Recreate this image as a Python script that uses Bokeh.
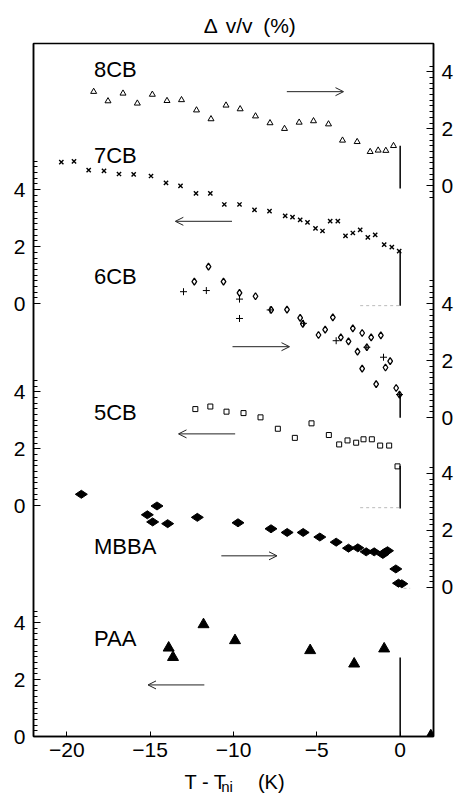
import numpy as np
from bokeh.plotting import figure
from bokeh.layouts import column
from bokeh.models import (Range1d, LinearAxis, FixedTicker, CustomJSTickFormatter,
                          Arrow, OpenHead, ColumnDataSource)
from bokeh.transform import dodge
from bokeh.core.properties import value
from bokeh.embed import file_html
from bokeh.resources import INLINE

FONT = "Liberation Sans"

# ---------------- data (T - Tni in K, delta v/v in %) ----------------
t_8cb = [-18.39, -17.53, -16.63, -15.77, -14.87, -13.99, -13.12, -12.22, -11.35, -10.45,
         -9.60, -8.68, -7.81, -6.94, -6.06, -5.20, -4.30, -3.46, -2.58, -1.80, -1.32, -0.86, -0.40]
v_8cb = [3.30, 2.97, 3.24, 2.89, 3.20, 2.98, 3.01, 2.65, 2.34, 2.82,
         2.69, 2.44, 2.20, 2.00, 2.22, 2.27, 2.16, 1.59, 1.54, 1.19, 1.24, 1.23, 1.40]

t_7cb = [-20.33, -19.57, -18.69, -17.77, -16.87, -15.99, -14.95, -14.05, -13.18, -12.25,
         -11.39, -10.55, -9.64, -8.74, -7.84, -6.90, -6.46, -6.00, -5.56, -5.08,
         -4.66, -4.20, -3.74, -3.28, -2.84, -2.40, -1.94, -1.50, -0.96, -0.50, -0.06]
v_7cb = [4.97, 4.99, 4.69, 4.66, 4.55, 4.54, 4.48, 4.24, 4.13, 3.87,
         3.87, 3.48, 3.48, 3.29, 3.25, 3.08, 3.04, 2.94, 2.85, 2.64,
         2.55, 2.90, 2.90, 2.38, 2.48, 2.59, 2.33, 2.41, 2.07, 1.98, 1.84]

t_6cb_a = [-12.35, -11.50, -10.60, -9.64, -8.68, -7.74, -6.79, -6.00, -5.84, -4.90,
           -4.50, -4.04, -3.56, -3.10, -2.84, -2.56, -2.28, -2.28, -2.00, -1.74,
           -1.44, -1.16, -0.88, -0.60, -0.24, -0.04]
v_6cb_a = [4.77, 5.30, 4.77, 4.38, 4.26, 3.78, 3.79, 3.50, 3.29, 2.90,
           3.09, 3.52, 2.82, 2.68, 3.13, 2.32, 2.97, 1.72, 2.47, 2.82,
           1.18, 2.89, 1.76, 1.98, 1.04, 0.81]
t_6cb_b = [-13.00, -11.63, -9.64, -9.64, -7.80, -5.80, -3.84, -2.00, -1.00, -0.04]
v_6cb_b = [4.42, 4.46, 4.16, 3.48, 3.78, 3.31, 2.70, 2.47, 2.12, 0.81]

t_5cb = [-12.29, -11.39, -10.42, -9.40, -8.38, -7.34, -6.32, -5.32, -4.28, -3.66,
         -3.16, -2.64, -2.20, -1.70, -1.20, -0.66, -0.16]
v_5cb = [3.39, 3.48, 3.30, 3.25, 3.10, 2.70, 2.38, 2.89, 2.48, 2.15,
         2.29, 2.21, 2.33, 2.33, 2.11, 2.11, 1.38]

t_mbba = [-19.13, -15.17, -14.85, -14.59, -13.95, -12.17, -9.73, -7.75, -6.78, -5.82,
          -4.82, -3.84, -3.10, -2.54, -2.04, -1.56, -1.04, -0.90, -0.76, -0.26, -0.10, 0.10]
v_mbba = [3.27, 2.55, 2.30, 2.86, 2.24, 2.46, 2.27, 2.06, 1.93, 1.93,
          1.77, 1.59, 1.38, 1.39, 1.25, 1.25, 1.16, 1.24, 1.29, 0.65, 0.15, 0.13]

t_paa = [-13.89, -13.63, -11.80, -9.91, -5.40, -2.76, -0.96, 1.84]
v_paa = [3.11, 2.78, 3.93, 3.37, 3.02, 2.55, 3.08, 0.03]

# jumps at the transition (vertical line at T = Tni)
jump_names = ["8CB", "7CB", "6CB", "5CB", "PAA"]
jump_top = [1.40, 1.86, 0.81, 1.40, 2.77]
jump_bottom = [-0.10, -0.07, 0.0, -0.10, 0.0]

# arrows: which axis each curve is read on
arrow_names = ["8CB", "7CB", "6CB", "5CB", "MBBA", "PAA"]
arrow_from = [-6.8, -10.09, -10.06, -9.90, -10.73, -11.75]
arrow_to = [-3.4, -13.49, -6.64, -13.30, -7.39, -15.13]
arrow_level = [3.30, 2.89, 2.49, 2.52, 1.11, 1.81]

names = ["8CB", "7CB", "6CB", "5CB", "MBBA", "PAA"]
x_ticks = [-20, -15, -10, -5, 0]
y_tick_values = [0, 2, 4]

# ---------------- layout: vertical offset of each curve ----------------
OFF = {"8CB": 19.33, "7CB": 15.19, "6CB": 11.19, "5CB": 8.10, "MBBA": 5.23, "PAA": 0.0}
LEFT = [("7CB", 0.0, 5.0), ("5CB", 0.0, 4.4), ("PAA", 0.0, 4.4)]
RIGHT = [("8CB", -0.4, 4.2), ("6CB", 0.0, 4.8), ("MBBA", 0.0, 4.2)]
name_pos = [4.07, 5.20, 4.95, 3.28, 1.44, 3.43]

W = 458
TOP_H = 41
BOT_H = 28
MAIN_H = 796 - TOP_H - BOT_H


def text_strip(h):
    f = figure(width=W, height=h, x_range=Range1d(0, W), y_range=Range1d(0, h),
               output_backend="svg", toolbar_location=None, min_border=0,
               min_border_left=0, min_border_right=0, min_border_top=0, min_border_bottom=0,
               x_axis_location=None, y_axis_location=None, title=None)
    f.grid.grid_line_color = None
    f.outline_line_color = None
    f.background_fill_color = "white"
    f.border_fill_color = "white"
    return f


# title strip: "Δ v/v  (%)"
top = text_strip(TOP_H)
top.text(x=[195, 220, 263], y=[16] * 3, text=["\u0394", "v/v", "(%)"],
         text_font=value(FONT), text_font_size="21px", text_align="left",
         text_baseline="middle", text_color="black")

# main plot
p = figure(width=W, height=MAIN_H, x_range=Range1d(-22, 2), y_range=Range1d(0, 24.32),
           output_backend="svg", toolbar_location=None, y_axis_location=None,
           min_border_left=33, min_border_right=25, min_border_top=2, min_border_bottom=32)
p.grid.grid_line_color = None
p.outline_line_color = "black"
p.outline_line_width = 1.5
p.background_fill_color = "white"
p.border_fill_color = "white"

xa = p.xaxis[0]
xa.ticker = FixedTicker(ticks=x_ticks, minor_ticks=[])
xa.major_tick_in = 5
xa.major_tick_out = 0
xa.axis_line_width = 1.5
xa.major_label_text_font = FONT
xa.major_label_text_font_size = "21px"
xa.major_label_standoff = 6
xa.major_label_text_color = "black"


def make_axis(panels):
    ticks, labels, minors = [], [], []
    for name, lo, hi in panels:
        off = OFF[name]
        for v in y_tick_values:
            ticks.append(round(off + v, 6))
            labels.append(str(v))
        n = int(round((hi - lo) / 0.2))
        for k in range(n + 1):
            mv = lo + 0.2 * k
            if min(abs(mv - v) for v in y_tick_values) > 1e-6:
                minors.append(round(off + mv, 6))
    fmt = CustomJSTickFormatter(args=dict(tv=ticks, tl=labels), code="""
        for (let i = 0; i < tv.length; i++) {
            if (Math.abs(tv[i] - tick) < 1e-4) { return tl[i]; }
        }
        return "";
    """)
    return LinearAxis(ticker=FixedTicker(ticks=ticks, minor_ticks=minors), formatter=fmt,
                      axis_line_width=1.5, major_tick_in=7, major_tick_out=0,
                      minor_tick_in=4, minor_tick_out=0, major_label_standoff=8,
                      major_label_text_font=FONT, major_label_text_font_size="21px",
                      major_label_text_color="black")


p.add_layout(make_axis(LEFT), "left")
p.add_layout(make_axis(RIGHT), "right")


def src(t, v):
    return ColumnDataSource(dict(t=t, v=v))


p.scatter("t", dodge("v", OFF["8CB"]), source=src(t_8cb, v_8cb), marker="triangle",
          size=6, fill_color=None, line_color="black", line_width=1)
p.scatter("t", dodge("v", OFF["7CB"]), source=src(t_7cb, v_7cb), marker="x",
          size=6, line_color="black", line_width=1.4)
p.scatter("t", dodge("v", OFF["6CB"]), source=src(t_6cb_a, v_6cb_a), marker="diamond",
          size=7, fill_color=None, line_color="black", line_width=1.3)
p.scatter("t", dodge("v", OFF["6CB"]), source=src(t_6cb_b, v_6cb_b), marker="cross",
          size=7, line_color="black", line_width=1)
p.scatter("t", dodge("v", OFF["5CB"]), source=src(t_5cb, v_5cb), marker="square",
          size=5, fill_color=None, line_color="black", line_width=1)
p.scatter("t", dodge("v", OFF["MBBA"]), source=src(t_mbba, v_mbba), marker="diamond",
          size=12, angle=1.5708, fill_color="black", line_color="black")
p.scatter("t", dodge("v", OFF["PAA"]), source=src(t_paa, v_paa), marker="triangle",
          size=11, fill_color="black", line_color="black")

# vertical jump lines at T = Tni
jsrc = ColumnDataSource(dict(
    x=[0.0] * len(jump_names),
    y0=[OFF[n] + v for n, v in zip(jump_names, jump_top)],
    y1=[OFF[n] + v for n, v in zip(jump_names, jump_bottom)]))
p.segment(x0="x", y0="y0", x1="x", y1="y1", source=jsrc, line_color="black", line_width=1.5)

# faint zero reference dashes near the transition
zsrc = ColumnDataSource(dict(x0=[-2.4, -2.4, 0.2], x1=[0.0, 0.0, 0.6],
                             y=[OFF["7CB"] - 0.07, OFF["5CB"] - 0.07, OFF["MBBA"] - 0.03]))
p.segment(x0="x0", y0="y", x1="x1", y1="y", source=zsrc, line_color="#bbbbbb",
          line_width=1, line_dash="3 3")

# arrows
for n, a, b, lv in zip(arrow_names, arrow_from, arrow_to, arrow_level):
    y = OFF[n] + lv
    p.add_layout(Arrow(end=OpenHead(size=8, line_width=1, line_color="#222222"),
                       x_start=a, y_start=y, x_end=b, y_end=y,
                       line_width=1, line_color="#222222"))

# curve names
p.text(x=[-18.37] * len(names), y=[OFF[n] + v for n, v in zip(names, name_pos)], text=names,
       text_font=value(FONT), text_font_size="22px", text_baseline="middle",
       text_align="left", text_color="black")

# x-axis title strip with subscript: "T - Tni  (K)"
bot = text_strip(BOT_H)
bot.text(x=[173, 257], y=[15, 15], text=["T - T", "(K)"], text_font=value(FONT),
         text_font_size="20px", text_align="left", text_baseline="middle", text_color="black")
bot.text(x=[215], y=[10], text=["ni"], text_font=value(FONT),
         text_font_size="15px", text_align="left", text_baseline="middle", text_color="black")

layout = column(top, p, bot, spacing=0)
open("out.html", "w").write(file_html(layout, INLINE))
